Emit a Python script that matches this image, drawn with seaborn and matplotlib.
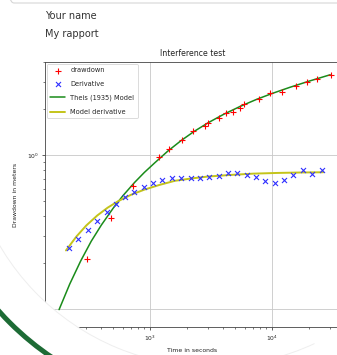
import matplotlib
matplotlib.use("Agg")
import matplotlib.pyplot as plt
import seaborn as sns
from matplotlib.patches import Wedge, Arc, FancyBboxPatch
from matplotlib.transforms import IdentityTransform

# measured drawdown (red +)
drawdown_t = [303, 479, 726, 1192, 1439, 1819, 2265, 2825, 2972, 3680, 4198,
              4822, 5468, 5930, 7870, 9640, 12140, 15730, 19240, 23220, 30470]
drawdown_s = [0.210, 0.392, 0.634, 0.966, 1.089, 1.251, 1.432, 1.549, 1.607,
              1.730, 1.865, 1.910, 2.028, 2.134, 2.300, 2.515, 2.577, 2.806,
              2.966, 3.102, 3.306]

# log derivative of the data (blue x)
deriv_t = [217, 258, 308, 368, 442, 526, 623, 743, 887, 1064, 1261, 1506, 1795,
           2156, 2573, 3064, 3657, 4383, 5197, 6210, 7400, 8820, 10590, 12630,
           14960, 17870, 21400, 25530]
deriv_s = [0.248, 0.285, 0.326, 0.373, 0.427, 0.481, 0.531, 0.578, 0.622, 0.661,
           0.689, 0.706, 0.706, 0.706, 0.706, 0.717, 0.731, 0.761, 0.761, 0.738,
           0.717, 0.675, 0.661, 0.689, 0.742, 0.799, 0.753, 0.799]

# fitted Theis model (green)
theis_t = [180, 220, 270, 330, 400, 500, 600, 750, 900, 1100, 1400, 1800, 2300,
           3000, 4000, 5500, 7500, 10000, 14000, 20000, 30000]
theis_s = [0.0991, 0.1451, 0.2044, 0.2753, 0.3513, 0.452, 0.544, 0.665, 0.771,
           0.893, 1.060, 1.241, 1.423, 1.621, 1.835, 2.071, 2.301, 2.509, 2.752,
           3.014, 3.322]

# model derivative (yellow)
mderiv_t = [205, 250, 300, 370, 450, 550, 700, 900, 1200, 1600, 2200, 3000,
            4500, 7000, 11000, 17000, 26300]
mderiv_s = [0.240, 0.296, 0.348, 0.405, 0.455, 0.502, 0.552, 0.596, 0.640,
            0.680, 0.705, 0.725, 0.742, 0.757, 0.765, 0.770, 0.773]

sns.set_theme(style="ticks")
plt.rcParams['font.family'] = ['DejaVu Sans']

W, H = 337, 355
fig = plt.figure(figsize=(W / 100, H / 100), dpi=100)
fig.patch.set_facecolor("white")

# axes placed in pixel terms of the screenshot
left, right, top, bottom = 45, 340, 62, 327
ax = fig.add_axes([left / W, 1 - bottom / H, (right - left) / W, (bottom - top) / H])
ax.set_xscale("log")
ax.set_yscale("log")

sns.scatterplot(x=drawdown_t, y=drawdown_s, marker="+", color="#ff0000", s=18,
                linewidth=0.8, label="drawdown", ax=ax, zorder=3)
sns.scatterplot(x=deriv_t, y=deriv_s, marker="x", color="#3030ff", s=13,
                linewidth=0.8, label="Derivative", ax=ax, zorder=3)
sns.lineplot(x=theis_t, y=theis_s, color="#1a8c1a", lw=1.1,
             label="Theis (1935) Model", ax=ax, zorder=2)
sns.lineplot(x=mderiv_t, y=mderiv_s, color="#c4c41a", lw=1.4,
             label="Model derivative", ax=ax, zorder=2)

ax.set_xlim(138, 36100)
ax.set_ylim(0.0764, 4.02)
ax.grid(True, which="major", color="#c8c8c8", lw=0.6)
ax.grid(False, which="minor")
for sp in ax.spines.values():
    sp.set_color("#444444")
    sp.set_linewidth(0.6)
ax.tick_params(which="major", length=2.5, width=0.6, labelsize=4.3, pad=2,
               colors="#444444", labelcolor="#222222")
ax.tick_params(which="minor", length=1.5, width=0.5, colors="#444444")

ax.set_title("Interference test", fontsize=5.6, pad=4, color="#222222")
ax.set_xlabel("Time in seconds", fontsize=4.4, labelpad=4, color="#222222")
ax.set_ylabel("Drawdown in meters", fontsize=4.4, labelpad=4, color="#222222")

leg = ax.legend(loc="upper left", fontsize=4.8, handlelength=2.2,
                handletextpad=0.8, labelspacing=1.15, borderpad=0.5,
                borderaxespad=0.3, frameon=True, fancybox=True)
leg.get_frame().set_edgecolor("#cccccc")
leg.get_frame().set_linewidth(0.6)

# header text of the notebook page
fig.text(45 / W, 1 - 16 / H, "Your name", fontsize=7, color="#333333",
         va="center", ha="left")
fig.text(45 / W, 1 - 34 / H, "My rapport", fontsize=7, color="#333333",
         va="center", ha="left")

# page decorations: cell border, white cut-out and green arc
ident = IdentityTransform()
cell = FancyBboxPatch((8, H - 3), 360, 30, boxstyle="round,pad=0,rounding_size=6",
                      transform=ident, facecolor="none", edgecolor="#d6d6d6",
                      lw=0.8, clip_on=False)
fig.add_artist(cell)
cx, cy, r = 211, H - 121.5, 245
fig.add_artist(Wedge((cx, cy), 500, 150, 285, width=500 - r, transform=ident,
                     facecolor="white", edgecolor="none", zorder=10))
fig.add_artist(Arc((cx, cy), 2 * r, 2 * r, theta1=200, theta2=295,
                   transform=ident, color="#eeeeee", lw=0.7, zorder=11))
fig.add_artist(Wedge((cx, cy), 287, 180, 270, width=5, transform=ident,
                     facecolor="#1d6b35", edgecolor="none", zorder=12))

fig.savefig("out.png", dpi=100)
